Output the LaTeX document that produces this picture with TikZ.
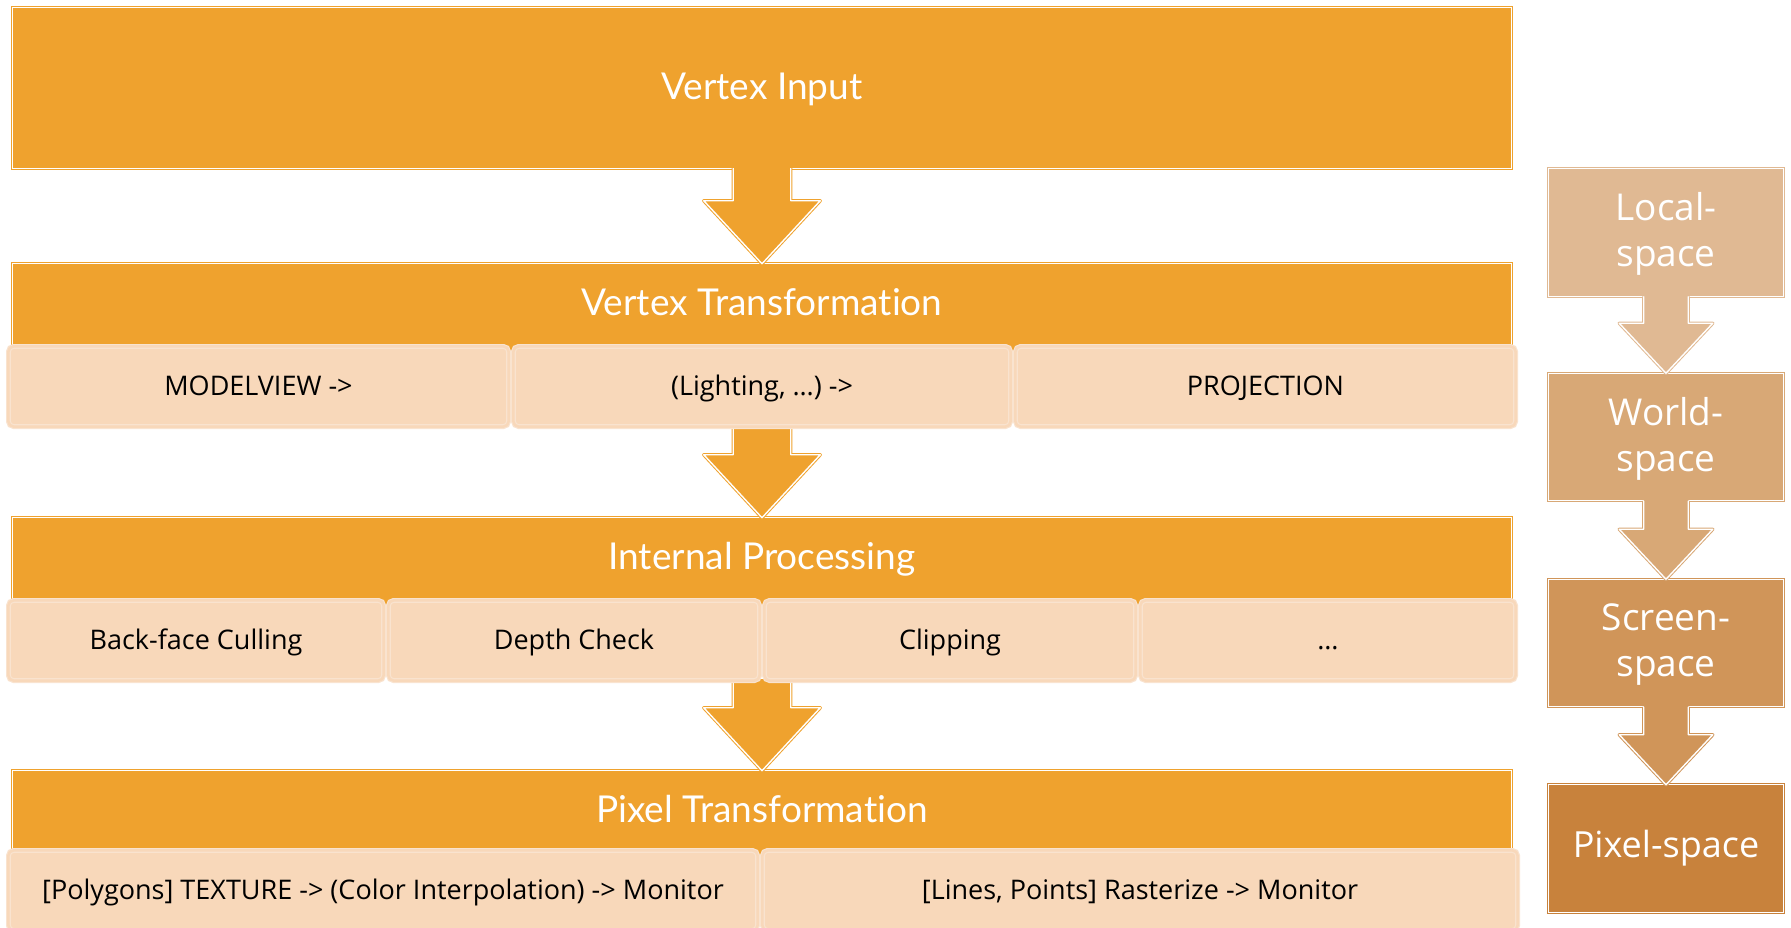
\documentclass[tikz,border=0pt]{standalone}
\usepackage{fontspec}
\setmainfont{Open Sans}
\newfontfamily\titlefont[Ligatures=NoCommon]{Lato}
\usetikzlibrary{calc}

\definecolor{stageorange}{HTML}{EFA22E}
\definecolor{peach}{HTML}{F8D8BA}
\definecolor{peachedge}{HTML}{F9E3CF}
\definecolor{localc}{HTML}{E0B993}
\definecolor{worldc}{HTML}{D8A876}
\definecolor{screenc}{HTML}{D09559}
\definecolor{pixelc}{HTML}{C8823C}

\tikzset{
  stagebox/.style={rectangle, inner sep=0pt, outer sep=0pt, fill=#1, draw=#1,
    double=white, double distance=1.4pt, line width=1pt},
  arrowline/.style={draw=#1, double=white, double distance=1.4pt, line width=1pt,
    line join=round},
  subbox/.style={rectangle, rounded corners=5pt, inner sep=0pt, outer sep=0pt,
    fill=peach, draw=peachedge, double=peach, double distance=2.5pt, line width=1.2pt,
    text height=20pt, text depth=3pt, font=\fontsize{27}{32}\selectfont},
  titletext/.style={anchor=base, inner sep=0pt, text=white,
    font=\titlefont\fontsize{37}{44}\selectfont},
  spacetext/.style={inner sep=0pt, text=white, align=center,
    font=\fontsize{37}{46}\selectfont},
}

% block arrow: start point, tip point, colour, shaft half-width, head half-width, head length
\newcommand\blockarrow[6]{%
  \fill[#3] let \p1=#1, \p2=#2 in
    (\x2-#4pt,\y1+4pt) -- (\x2-#4pt,\y2+#6pt) -- (\x2-#5pt,\y2+#6pt) -- (\x2,\y2)
    -- (\x2+#5pt,\y2+#6pt) -- (\x2+#4pt,\y2+#6pt) -- (\x2+#4pt,\y1+4pt) -- cycle;
  \draw[arrowline=#3] let \p1=#1, \p2=#2 in
    (\x2-#4pt,\y1) -- (\x2-#4pt,\y2+#6pt) -- (\x2-#5pt,\y2+#6pt) -- (\x2,\y2)
    -- (\x2+#5pt,\y2+#6pt) -- (\x2+#4pt,\y2+#6pt) -- (\x2+#4pt,\y1);
}

% sub-step cell given its outer extents: name, x1, x2, y1, y2, text
\newcommand\subcell[6]{%
  \node[subbox, minimum width={#3-#2-4.9}, minimum height={#5-#4-4.9}]
    (#1) at ({(#2+#3)/2},{(#4+#5)/2}) {#6};
}

\begin{document}
\begin{tikzpicture}[x=1pt,y=-1pt]
\useasboundingbox (0,0) rectangle (1791,928);
\clip (0,0) rectangle (1791,928);

% pipeline stages
\node[stagebox=stageorange, minimum width=1498.5, minimum height=160.5] (vin) at (762,88) {};
\node[stagebox=stageorange, minimum width=1498.5, minimum height=140] (vtbox) at (762,333.75) {};
\node[stagebox=stageorange, minimum width=1498.5, minimum height=140] (ipbox) at (762,587.75) {};
\node[stagebox=stageorange, minimum width=1498.5, minimum height=140] (ptbox) at (762,840.75) {};

\node[titletext] (vintxt) at (762,100) {Vertex Input};
\node[titletext] (vttxt) at (762,315) {Vertex Transformation};
\node[titletext] (iptxt) at (762,569) {Internal Processing};
\node[titletext] (pttxt) at (762,822) {Pixel Transformation};

% bottom edges of the sub-step rows
\coordinate (vtrow) at (762,429);
\coordinate (iprow) at (762,683);

% arrows between stages
\blockarrow{(vin.south)}{(vtbox.north)}{stageorange}{28.75}{58.25}{63}
\blockarrow{(vtrow)}{(ipbox.north)}{stageorange}{28.75}{58.25}{63}
\blockarrow{(iprow)}{(ptbox.north)}{stageorange}{28.75}{58.25}{63}

% sub-steps of each stage
\subcell{mv}{6}{511}{344}{429}{MODELVIEW ->}
\subcell{light}{511}{1013}{344}{429}{(Lighting, \dots) ->}
\subcell{proj}{1013}{1518}{344}{429}{PROJECTION}

\subcell{cull}{6}{386}{598}{683}{Back-face Culling}
\subcell{depth}{386}{762}{598}{683}{Depth Check}
\subcell{clip}{762}{1138}{598}{683}{Clipping}
\subcell{more}{1138}{1518}{598}{683}{\dots}

\subcell{poly}{6}{760}{848}{933}{[Polygons] TEXTURE -> (Color Interpolation) -> Monitor}
\subcell{lines}{760}{1520}{848}{933}{[Lines, Points] Rasterize -> Monitor}

% coordinate spaces
\node[stagebox=localc, minimum width=234.5, minimum height=127.5] (local) at (1666,232.5) {};
\node[stagebox=worldc, minimum width=234.5, minimum height=127.5] (world) at (1666,437) {};
\node[stagebox=screenc, minimum width=234.5, minimum height=127.5] (screen) at (1666,643) {};
\node[stagebox=pixelc, minimum width=234.5, minimum height=127.5] (pixel) at (1666,848.5) {};

\blockarrow{(local.south)}{(world.north)}{localc}{22.25}{46.75}{50}
\blockarrow{(world.south)}{(screen.north)}{worldc}{22.25}{46.75}{50}
\blockarrow{(screen.south)}{(pixel.north)}{screenc}{22.25}{46.75}{50}

\node[spacetext] (localtxt) at (1666,234) {Local-\\space};
\node[spacetext] (worldtxt) at (1666,438.5) {World-\\space};
\node[spacetext] (screentxt) at (1666,644.5) {Screen-\\space};
\node[spacetext, font=\fontsize{36}{44}\selectfont] (pixeltxt) at (1666,848.5) {Pixel-space};
\end{tikzpicture}
\end{document}
